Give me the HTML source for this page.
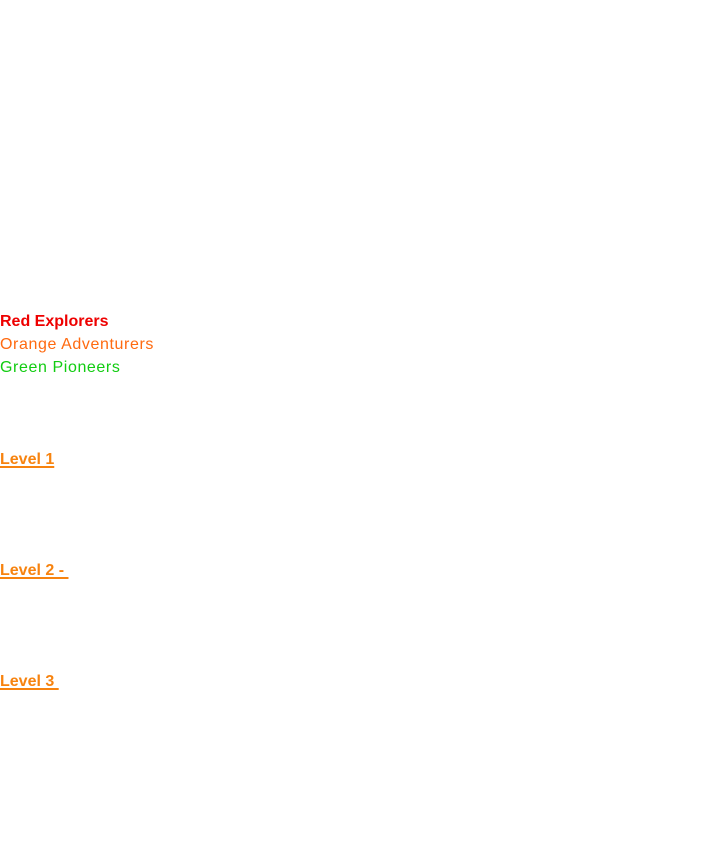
<!DOCTYPE html>
<html><head><style>
body{margin:0;width:723px;height:863px;background:#fff;font-family:"Liberation Sans",sans-serif;font-size:16px;position:relative;overflow:hidden}
div{position:absolute;left:0;white-space:pre;line-height:23px}
.l{color:#f7830f;font-weight:bold;text-decoration:underline;text-decoration-thickness:2px;text-underline-offset:2px}
</style></head><body>
<div style="top:310px;color:#ee0000;font-weight:bold">Red Explorers</div>
<div style="top:333px;color:#ff6a10;letter-spacing:0.6px">Orange Adventurers</div>
<div style="top:356px;color:#11cc11;letter-spacing:0.6px">Green Pioneers</div>
<div class="l" style="top:448px">Level 1</div>
<div class="l" style="top:559px">Level 2 - </div>
<div class="l" style="top:670px">Level 3 </div>
</body></html>
